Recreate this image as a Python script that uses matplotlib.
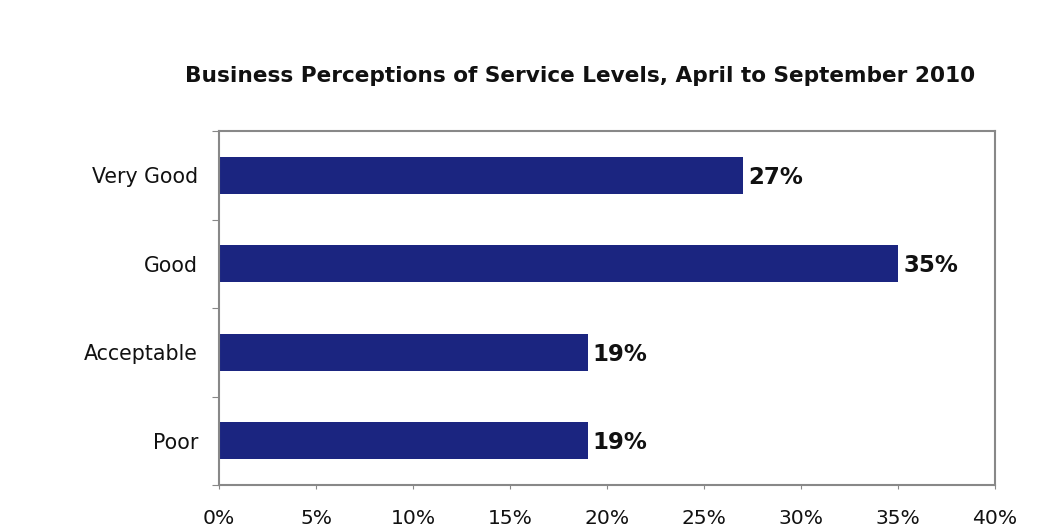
import matplotlib
matplotlib.use("Agg")
import matplotlib.pyplot as plt
from matplotlib.ticker import FuncFormatter

categories = ["Very Good", "Good", "Acceptable", "Poor"]
values = [27, 35, 19, 19]
x_ticks = [0, 5, 10, 15, 20, 25, 30, 35, 40]

plt.rcParams['font.family'] = ['DejaVu Sans']

fig = plt.figure(figsize=(10.38, 5.32), dpi=100)
ax = fig.add_axes([219 / 1038, 1 - 485 / 532, (995 - 219) / 1038, (485 - 131) / 532])

pos = list(range(len(categories)))
ax.barh(pos, values, height=0.42, color="#1b2580", edgecolor="none")
ax.set_ylim(len(categories) - 0.5, -0.5)
ax.set_xlim(0, 40)

for p, v in zip(pos, values):
    ax.text(v + 0.27, p + 0.02, f"{v}%", va="center", ha="left", fontsize=16.5,
            fontweight="bold", color="#111111")

ax.set_xticks(x_ticks)
ax.xaxis.set_major_formatter(FuncFormatter(lambda x, _: f"{x:.0f}%"))
ax.set_yticks([p - 0.5 for p in pos] + [len(categories) - 0.5])
ax.set_yticklabels([])
ax.set_yticks(pos, minor=True)
ax.set_yticklabels(categories, minor=True)
ax.tick_params(axis="y", which="minor", length=0, pad=15, labelsize=14.8,
               labelcolor="#111111")
ax.tick_params(axis="y", which="major", length=5, color="#888888", direction="out")
ax.tick_params(axis="x", length=3, color="#888888", direction="out", pad=14.5,
               labelsize=14.6, labelcolor="#111111")

for s in ax.spines.values():
    s.set_color("#888888")
    s.set_linewidth(1.5)

fig.text(580 / 1038, 1 - 82.5 / 532, "Business Perceptions of Service Levels, April to September 2010",
         ha="center", va="baseline", fontsize=15.6, fontweight="bold", color="#111111")

fig.savefig("out.png", dpi=100)
